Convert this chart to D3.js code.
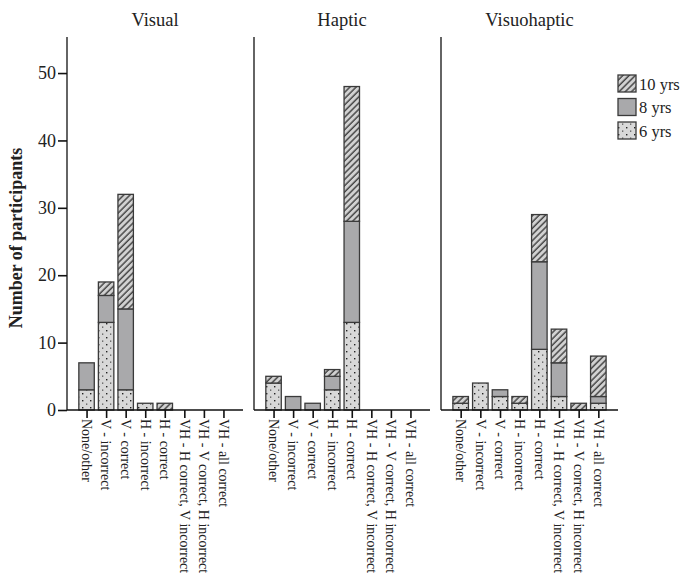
<!DOCTYPE html>
<html><head><meta charset="utf-8">
<script src="https://cdn.jsdelivr.net/npm/d3@7"></script>
<style>
body{margin:0;background:#fff;}
svg text{font-family:"Liberation Serif","Times New Roman",serif;fill:#222;}
</style></head>
<body><svg id="c" width="689" height="576"></svg>
<script>
const categories = ["None/other","V - incorrect","V - correct","H - incorrect","H - correct",
  "VH - H correct, V incorrect","VH - V correct, H incorrect","VH - all correct"];
const conditions = ["Visual","Haptic","Visuohaptic"];
const ageGroups = ["6 yrs","8 yrs","10 yrs"];
const yTicks = [0,10,20,30,40,50];

const visual6  = [3,13,3,1,0,0,0,0];
const visual8  = [4,4,12,0,0,0,0,0];
const visual10 = [0,2,17,0,1,0,0,0];
const haptic6  = [4,0,0,3,13,0,0,0];
const haptic8  = [0,2,1,2,15,0,0,0];
const haptic10 = [1,0,0,1,20,0,0,0];
const visuohaptic6  = [1,4,2,1,9,2,0,1];
const visuohaptic8  = [0,0,1,0,13,5,0,1];
const visuohaptic10 = [1,0,0,1,7,5,1,6];

const seriesByCondition = [
  [visual6, visual8, visual10],
  [haptic6, haptic8, haptic10],
  [visuohaptic6, visuohaptic8, visuohaptic10]
];

const svg = d3.select("#c");
const defs = svg.append("defs");

// dotted pattern (6 yrs)
const pDot = defs.append("pattern").attr("id","dots").attr("patternUnits","userSpaceOnUse")
  .attr("width",8).attr("height",7);
pDot.append("rect").attr("width",8).attr("height",7).attr("fill","#d8d8d8");
pDot.append("rect").attr("x",2).attr("y",1).attr("width",1.4).attr("height",1.4).attr("fill","#222");
pDot.append("rect").attr("x",6).attr("y",4.5).attr("width",1.3).attr("height",1.3).attr("fill","#555");

// hatch pattern (10 yrs)
const pH = defs.append("pattern").attr("id","hatch").attr("patternUnits","userSpaceOnUse")
  .attr("width",4.4).attr("height",4.4).attr("patternTransform","rotate(45)");
pH.append("rect").attr("width",4.4).attr("height",4.4).attr("fill","#d2d2d2");
pH.append("line").attr("x1",1).attr("x2",1).attr("y1",0).attr("y2",4.4)
  .attr("stroke","#333").attr("stroke-width",1.3);

const fills = ["url(#dots)","#a9a9ab","url(#hatch)"];
const strokeCol = "#3a3a3a";

const y = d3.scaleLinear().domain([0,55.35]).range([410,37]);
const panelRanges = [[67,243],[254,430],[441,618]];

conditions.forEach((cond, ci) => {
  const [x0,x1] = panelRanges[ci];
  const x = d3.scalePoint().domain(categories).range([x0,x1]).padding(1);
  const bw = x.step()*0.79;
  const g = svg.append("g");

  // panel title
  g.append("text").attr("x",(x0+x1)/2).attr("y",26).attr("text-anchor","middle")
    .attr("font-size","18.5px").text(cond);

  // bars
  const series = seriesByCondition[ci];
  categories.forEach((cat, k) => {
    let base = 0;
    series.forEach((arr, a) => {
      const v = arr[k];
      if (v > 0) {
        g.append("rect")
          .attr("x", x(cat)-bw/2).attr("width", bw)
          .attr("y", y(base+v)).attr("height", y(base)-y(base+v))
          .attr("fill", fills[a]).attr("stroke", strokeCol).attr("stroke-width",1.3);
      }
      base += v;
    });
  });

  // x axis
  const xa = g.append("g").attr("transform","translate(0,410)")
    .call(d3.axisBottom(x).tickSize(8).tickSizeOuter(0).tickFormat(""));
  xa.select(".domain").attr("stroke","#111").attr("stroke-width",1.3).attr("d",`M${x0},0H${x1}`);
  xa.selectAll(".tick line").attr("stroke","#111").attr("stroke-width",1.6);
  categories.forEach(cat => {
    g.append("text")
      .attr("transform",`translate(${x(cat)},419) rotate(90)`)
      .attr("dy","0.33em").attr("font-size","14px").text(cat);
  });

  // vertical axis
  if (ci === 0) {
    const ya = g.append("g").attr("transform",`translate(${x0},0)`)
      .call(d3.axisLeft(y).tickValues(yTicks).tickSize(9).tickSizeOuter(0).tickPadding(2));
    ya.select(".domain").attr("stroke","#111").attr("stroke-width",1.3).attr("d",`M0,${y(0)}V37`);
    ya.selectAll(".tick line").attr("stroke","#111").attr("stroke-width",1.6);
    ya.selectAll(".tick text").attr("font-size","18px")
      .attr("font-family","Liberation Serif, Times New Roman, serif").attr("fill","#222");
  } else {
    g.append("line").attr("x1",x0).attr("x2",x0).attr("y1",y(0)).attr("y2",37)
      .attr("stroke","#111").attr("stroke-width",1.3);
  }
});

// y title
svg.append("text").attr("transform","translate(22,238) rotate(-90)")
  .attr("text-anchor","middle").attr("font-size","18px").attr("font-weight","bold")
  .text("Number of participants");

// legend
const legendOrder = [2,1,0];
legendOrder.forEach((a, i) => {
  const ly = 75 + i*23.5;
  svg.append("rect").attr("x",618).attr("y",ly).attr("width",18).attr("height",17)
    .attr("fill",fills[a]).attr("stroke",strokeCol).attr("stroke-width",1.3);
  svg.append("text").attr("x",639).attr("y",ly+14.5).attr("font-size","16.5px").text(ageGroups[a]);
});
</script></body></html>
